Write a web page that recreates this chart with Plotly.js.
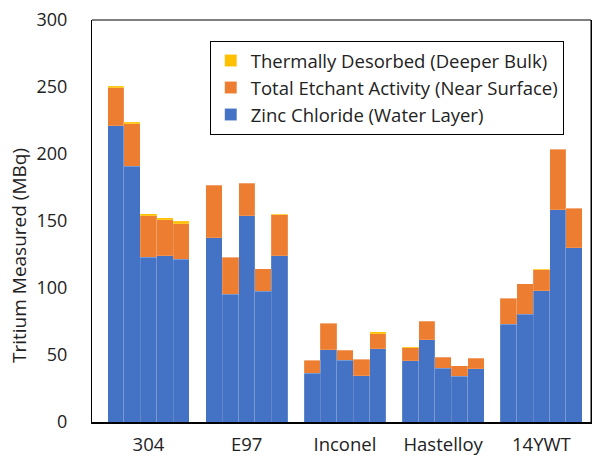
<!DOCTYPE html>
<html>
<head>
<meta charset="utf-8">
<script src="https://cdn.plot.ly/plotly-3.0.1.min.js"></script>
<style>html,body{margin:0;padding:0;background:#fff;}#chart{width:592px;height:457px;}</style>
</head>
<body>
<div id="chart"></div>
<script>
var groups = ["304", "E97", "Inconel", "Hastelloy", "14YWT"];
var zincChloride = [
  [221, 191, 123, 124, 121.4],
  [137.5, 95.5, 154, 97.5, 124],
  [36.5, 54, 46, 34.5, 54.5],
  [45.8, 61.5, 40, 34, 39.6],
  [73, 80.5, 98, 158.5, 130]
];
var etchant = [
  [28.5, 31.4, 31, 27, 26.6],
  [39.1, 27.4, 24.1, 16.7, 30.5],
  [9.5, 19.6, 7.7, 12.3, 11.4],
  [9.7, 13.6, 8.3, 7.8, 7.9],
  [19.3, 22.5, 15.7, 45, 29.5]
];
var thermal = [
  [0.9, 1.2, 1.3, 1.5, 1.7],
  [0.3, 0.2, 0.3, 0.2, 0.5],
  [0.2, 0.2, 0.2, 0.2, 1.3],
  [0.5, 0.3, 0.3, 0.3, 0.3],
  [0.2, 0.2, 0.2, 0.2, 0.2]
];
var seriesNames = ["Zinc Chloride (Water Layer)", "Total Etchant Activity (Near Surface)", "Thermally Desorbed (Deeper Bulk)"];
var seriesColors = ["#4472C4", "#ED7D31", "#FFC000"];
var yTitle = "Tritium Measured (MBq)";

var slotsPerGroup = 6;
var xs = [], tickPos = [];
groups.forEach(function (g, gi) {
  zincChloride[gi].forEach(function (v, j) { xs.push(gi * slotsPerGroup + j); });
  tickPos.push(gi * slotsPerGroup + (zincChloride[gi].length - 1) / 2);
});
function flat(a) { return [].concat.apply([], a); }
var data = [zincChloride, etchant, thermal].map(function (s, i) {
  return {
    type: "bar", x: xs, y: flat(s), name: seriesNames[i], width: 1,
    marker: { color: seriesColors[i], line: { color: "rgba(255,255,255,0.3)", width: 0.5 } },
    hoverinfo: "y"
  };
});
var fontFam = "Open Sans, sans-serif";
var layout = {
  width: 592, height: 457,
  margin: { l: 92, r: 1, t: 20, b: 35 },
  barmode: "stack", bargap: 0,
  paper_bgcolor: "#fff", plot_bgcolor: "#fff",
  font: { family: fontFam, color: "#222", size: 17 },
  showlegend: true,
  legend: {
    x: 0.236, y: 0.948, xanchor: "left", yanchor: "top",
    traceorder: "reversed", bordercolor: "#000", borderwidth: 1, bgcolor: "#fff",
    font: { size: 18.5, family: fontFam, color: "#222" }
  },
  xaxis: {
    range: [-1.45, 29.03], tickvals: tickPos, ticktext: groups,
    showgrid: false, zeroline: false, showline: true, linecolor: "#000", linewidth: 2,
    ticks: "", ticklabelstandoff: 5, tickfont: { size: 18.5 }, fixedrange: true
  },
  yaxis: {
    range: [0, 300], dtick: 50, showgrid: false, zeroline: false,
    showline: true, linecolor: "#000", linewidth: 1, mirror: true,
    ticks: "", ticklabelstandoff: 20, tickfont: { size: 18 }
  },
  annotations: [{
    text: yTitle, textangle: -90, xref: "paper", yref: "paper",
    x: 0, xshift: -73, xanchor: "center", y: 0.413, yanchor: "middle",
    showarrow: false, font: { size: 19, family: fontFam, color: "#222" }
  }],
  shapes: [{ type: "line", xref: "paper", yref: "paper", x0: 0, x1: 1, y0: 1, y1: 1, line: { color: "#000", width: 1 } },
           { type: "line", xref: "paper", yref: "paper", x0: 1, x1: 1, y0: 0, y1: 1, line: { color: "#000", width: 1 } }]
};
Plotly.newPlot("chart", data, layout, { displayModeBar: false, staticPlot: true });
</script>
</body>
</html>
